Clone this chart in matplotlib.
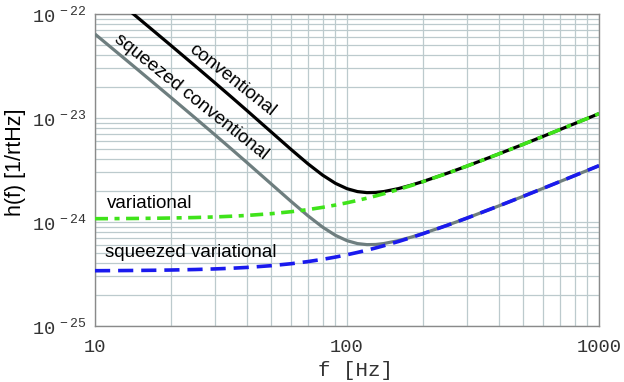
import numpy as np
import matplotlib
matplotlib.use("Agg")
import matplotlib.pyplot as plt
from matplotlib.ticker import FixedLocator, FuncFormatter, LogLocator, NullFormatter

plt.rcParams['font.family'] = ['Liberation Sans', 'DejaVu Sans']
plt.rcParams['mathtext.fontset'] = 'custom'
plt.rcParams['mathtext.rm'] = 'Liberation Mono'
plt.rcParams['mathtext.default'] = 'rm'

# frequencies [Hz] and strain noise values (units of 1e-24 / rtHz)
freq = [10, 12, 14, 17, 20, 25, 30, 35, 40, 50, 60, 70, 80, 90, 100,
        110, 120, 130, 140, 160, 180, 200, 250, 300, 400, 500, 600, 700, 800, 1000]
conventional = [202.7, 140.4, 102.9, 69.45, 49.90, 31.59, 21.66, 15.70, 11.84, 7.351,
                4.982, 3.626, 2.824, 2.353, 2.091, 1.961, 1.916, 1.923, 1.962, 2.095,
                2.263, 2.448, 2.943, 3.457, 4.511, 5.581, 6.659, 7.742, 8.829, 11.01]
variational = [1.076, 1.078, 1.081, 1.086, 1.092, 1.104, 1.119, 1.137, 1.156, 1.202,
               1.256, 1.316, 1.383, 1.455, 1.531, 1.612, 1.695, 1.781, 1.870, 2.054,
               2.243, 2.438, 2.940, 3.456, 4.511, 5.581, 6.659, 7.742, 8.829, 11.01]
sq_conventional = [64.1, 44.40, 32.54, 21.96, 15.78, 9.991, 6.851, 4.964, 3.744, 2.325,
                   1.576, 1.147, 0.8931, 0.7442, 0.6612, 0.6202, 0.6059, 0.6081, 0.6206, 0.6625,
                   0.7158, 0.7743, 0.9306, 1.093, 1.427, 1.765, 2.106, 2.449, 2.792, 3.481]
sq_variational = [0.3401, 0.3409, 0.3418, 0.3434, 0.3454, 0.3493, 0.3540, 0.3595, 0.3657, 0.3801,
                  0.3971, 0.4163, 0.4374, 0.4601, 0.4843, 0.5096, 0.5360, 0.5633, 0.5914, 0.6494,
                  0.7095, 0.7711, 0.9299, 1.093, 1.427, 1.765, 2.106, 2.449, 2.792, 3.481]

f = np.array(freq)
h_conv = np.array(conventional) * 1e-24
h_var = np.array(variational) * 1e-24
h_sqconv = np.array(sq_conventional) * 1e-24
h_sqvar = np.array(sq_variational) * 1e-24

fig = plt.figure(figsize=(6.24, 3.82), dpi=100)
ax = fig.add_axes([95/624, 1 - 326/382, 504/624, 312/382])
ax.set_xscale('log')
ax.set_yscale('log')
ax.set_xlim(10, 1000)
ax.set_ylim(1e-25, 1e-22)

ax.plot(f, h_conv, color='black', lw=2.3, solid_capstyle='butt', zorder=3)
ax.plot(f, h_sqconv, color='#6e7e7f', lw=2.3, solid_capstyle='butt', zorder=3)
ax.plot(f, h_var, color='#3fe31a', lw=2.6, dashes=(3.6, 1.8, 1.4, 1.8), zorder=4)
ax.plot(f, h_sqvar, color='#1a1aee', lw=2.6, dashes=(4.2, 2.2), zorder=4)

# grid
ax.xaxis.set_major_locator(FixedLocator([10, 100, 1000]))
ax.yaxis.set_major_locator(FixedLocator([1e-25, 1e-24, 1e-23, 1e-22]))
ax.xaxis.set_minor_locator(LogLocator(base=10, subs=np.arange(2, 10)))
ax.yaxis.set_minor_locator(LogLocator(base=10, subs=np.arange(2, 10)))
ax.xaxis.set_minor_formatter(NullFormatter())
ax.yaxis.set_minor_formatter(NullFormatter())
ax.grid(True, which='both', color='#bccacd', lw=0.9, zorder=0)
ax.set_axisbelow(True)

ax.xaxis.set_major_formatter(FuncFormatter(lambda v, p: '%d' % round(v)))
ax.yaxis.set_major_formatter(FuncFormatter(lambda v, p: r'$10^{\,%d}$' % round(np.log10(v))))
ax.tick_params(which='both', length=0)
ax.tick_params(axis='x', pad=9, labelsize=13.5, labelcolor='#333333')
ax.tick_params(axis='y', pad=6, labelsize=13.5, labelcolor='#333333')
for lab in ax.get_xticklabels():
    lab.set_fontfamily('Liberation Mono')

for s in ax.spines.values():
    s.set_color('#8a8a8a')
    s.set_linewidth(1.0)

# curve labels
ax.text(35.1, 2.32e-23, 'conventional', rotation=-38.5, rotation_mode='anchor',
        ha='center', va='center', fontsize=13.5)
ax.text(24.0, 1.59e-23, 'squeezed conventional', rotation=-38.5, rotation_mode='anchor',
        ha='center', va='center', fontsize=13.5)
ax.text(11.16, 1.52e-24, 'variational', ha='left', va='center', fontsize=13.5)
ax.text(10.96, 5.04e-25, 'squeezed variational', ha='left', va='center', fontsize=13.5)

fig.text(16/624, 1 - 162/382, 'h(f) [1/rtHz]', rotation=90, ha='center', va='center',
         fontsize=15.5)
fig.text(355/624, 1 - 370/382, 'f [Hz]', ha='center', va='center', fontsize=15,
         family='Liberation Mono', color='#333333')

fig.savefig('out.png', dpi=100)
